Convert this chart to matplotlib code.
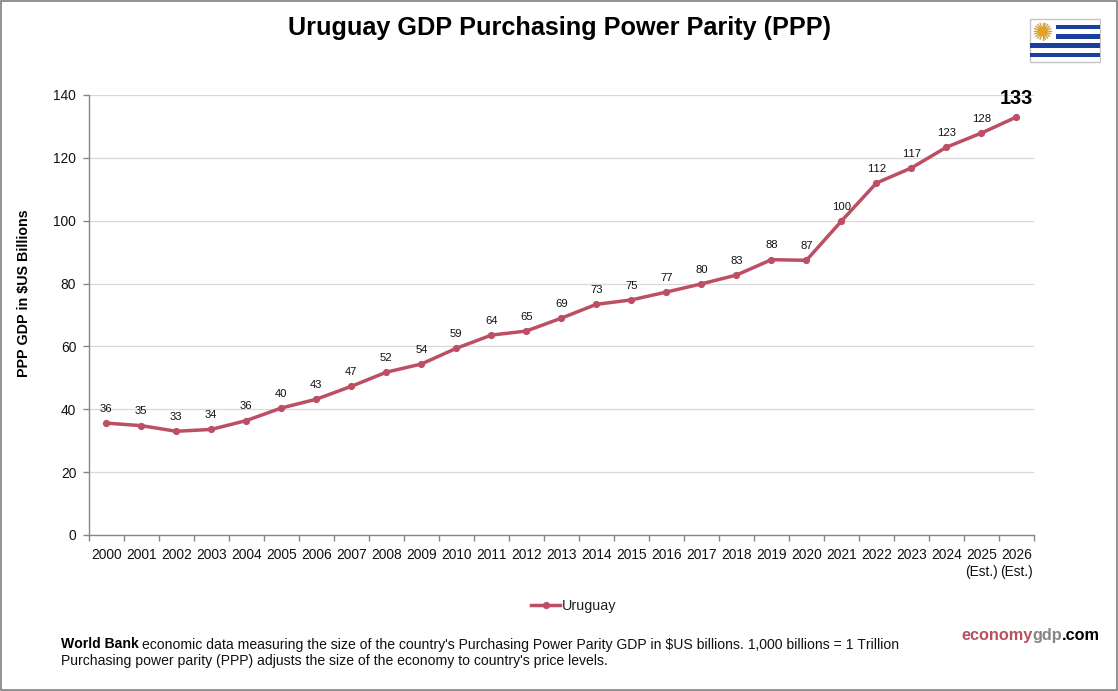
import matplotlib
matplotlib.use("Agg")
import numpy as np
import matplotlib.pyplot as plt
import matplotlib.patches as mpatches

years = [str(y) for y in range(2000, 2025)] + ["2025\n(Est.)", "2026\n(Est.)"]
gdp = [35.6, 34.8, 33.0, 33.6, 36.4, 40.4, 43.2, 47.3, 51.8, 54.4, 59.4, 63.6, 64.9, 69.0,
       73.4, 74.8, 77.3, 79.9, 82.7, 87.6, 87.4, 99.9, 112.0, 116.8, 123.4, 127.9, 133.0]
y_ticks = [0, 20, 40, 60, 80, 100, 120, 140]

LINE = "#BC4F63"
AXIS = "#868686"
GRID = "#D9D9D9"
W, H = 1118, 691

plt.rcParams["font.family"] = ["Liberation Sans", "DejaVu Sans"]
plt.rcParams["text.kerning_factor"] = 6


def fx(px):
    return px / W


def fy(py):
    return 1 - py / H


fig = plt.figure(figsize=(W / 100, H / 100), dpi=100, facecolor="white")
ax = fig.add_axes([fx(88.7), fy(535), fx(1034 - 88.7), (535 - 95) / H])

x = np.arange(len(gdp))
line, = ax.plot(x, gdp, color=LINE, lw=2.5, marker="o", ms=5.2, mew=0, label="Uruguay",
                solid_joinstyle="round", zorder=3)

ax.set_xlim(-0.5, len(gdp) - 0.5)
ax.set_ylim(0, 140)
ax.set_yticks(y_ticks)
ax.tick_params(axis="y", length=4, width=1, color=AXIS, labelsize=9.9, labelcolor="#111111", pad=5)
ax.set_xticks(x)
ax.set_xticklabels(years, fontsize=9.9, color="#111111", linespacing=1.3)
ax.set_xticks(np.arange(len(gdp) + 1) - 0.5, minor=True)
ax.tick_params(axis="x", which="major", length=0, pad=9.5)
ax.tick_params(axis="x", which="minor", length=4, width=1, color=AXIS)
ax.grid(axis="y", color=GRID, lw=0.9)
ax.set_axisbelow(True)
for side in ["top", "right"]:
    ax.spines[side].set_visible(False)
for side in ["left", "bottom"]:
    ax.spines[side].set_color(AXIS)
    ax.spines[side].set_linewidth(1)

# value labels, the last one larger
for i, v in enumerate(gdp[:-1]):
    ax.annotate(f"{v:.0f}", (i, v), xytext=(0, 10.3), textcoords="offset points",
                ha="center", va="center", fontsize=8.1, color="#111111")
ax.annotate(f"{gdp[-1]:.0f}", (x[-1], gdp[-1]), xytext=(0, 13.4), textcoords="offset points",
            ha="center", va="center", fontsize=14.4, fontweight="bold", color="black")

fig.text(fx(559.5), fy(27.5), "Uruguay GDP Purchasing Power Parity (PPP)", ha="center", va="center",
         fontsize=18.15, fontweight="bold", color="black")
fig.text(fx(24.5), fy(293), r"PPP GDP in \$US Billions", rotation=90, ha="center", va="center",
         fontsize=10.3, fontweight="bold", color="black")

fig.legend(handles=[line], loc="center", bbox_to_anchor=(fx(573.5), fy(606)), frameon=False,
           fontsize=10.4, handlelength=2.0, handletextpad=0.1, labelcolor="#222222")

# footnote with a bold lead-in
renderer = fig.canvas.get_renderer()
lead = fig.text(fx(61), fy(644.5), "World Bank", fontsize=10.05, fontweight="bold", va="center", color="black")
lead_end = lead.get_window_extent(renderer).x1
fig.text((lead_end + 3.5) / W, fy(644.5),
         "economic data measuring the size of the country's Purchasing Power Parity GDP in \\$US billions. "
         "1,000 billions = 1 Trillion",
         fontsize=10.05, va="center", color="#111111")
fig.text(fx(61), fy(661), "Purchasing power parity (PPP) adjusts the size of the economy to country's price levels.",
         fontsize=10.05, va="center", color="#111111")

# site name, three colours placed from the left
pos = 961
for part, col in [("economy", "#B9515F"), ("gdp", "#858585"), (".com", "black")]:
    t = fig.text(fx(pos), fy(635.5), part, fontsize=11.7, fontweight="bold", va="center", color=col)
    pos = t.get_window_extent(renderer).x1

# flag in the corner
flag = fig.add_axes([fx(1028), fy(64), fx(73), 46 / H])
flag.set_xlim(1028, 1101)
flag.set_ylim(64, 18)
flag.axis("off")
flag.add_patch(mpatches.Rectangle((1029.5, 19.5), 70.5, 43, fc="white", ec="#C4C4C4", lw=1))
for top, left in [(24.7, 1056), (34, 1056), (43.3, 1030), (52.7, 1030)]:
    flag.add_patch(mpatches.Rectangle((left, top), 1100 - left, 4.7, fc="#1A3F9E", ec="none"))
for a in np.linspace(0, 2 * np.pi, 20, endpoint=False):
    flag.plot([1042.7, 1042.7 + 8.3 * np.cos(a)], [31.3, 31.3 + 8.3 * np.sin(a)], color="#CFA040", lw=1.0)
flag.add_patch(mpatches.Circle((1042.7, 31.3), 4.8, fc="#E6A21F", ec="none", zorder=3))

# grey outer frame
fig.add_artist(mpatches.Rectangle((0.5 / W, 1 / H), (W - 2) / W, (H - 1.5) / H, transform=fig.transFigure,
                                  fc="none", ec="#7F7F7F", lw=1.2))

fig.savefig("out.png", dpi=100)
